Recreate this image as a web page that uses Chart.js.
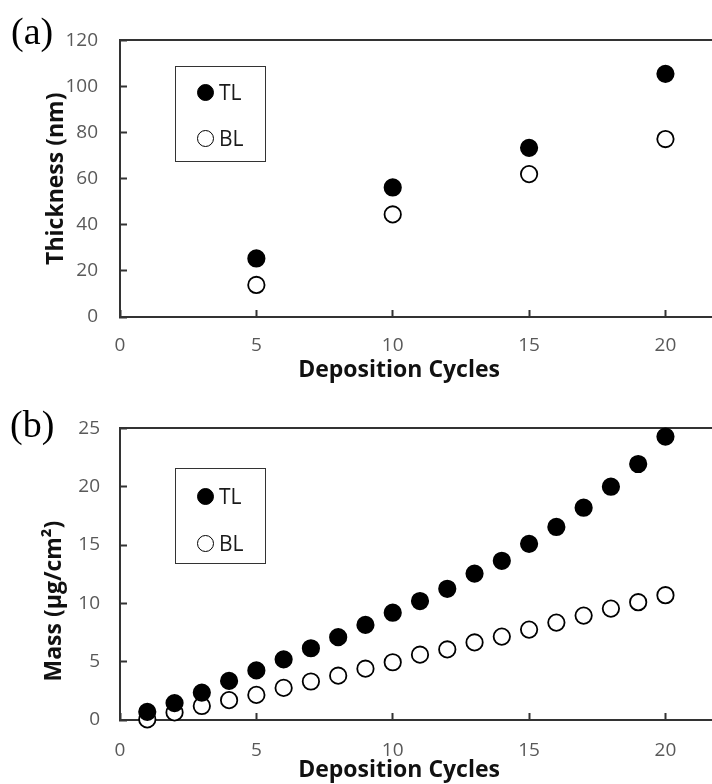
<!DOCTYPE html>
<html>
<head>
<meta charset="utf-8">
<title>Deposition cycles</title>
<script src="https://cdn.jsdelivr.net/npm/chart.js@4.4.1/dist/chart.umd.min.js"></script>
<style>
    html, body { margin: 0; padding: 0; width: 712px; height: 784px; overflow: hidden; background: #fff; }
    .panel { position: absolute; left: 0; }
    .tag { position: absolute; font-family: 'Liberation Serif', 'DejaVu Serif', serif; font-size: 38px; line-height: 1; color: #000; }
    .key { position: absolute; left: 175px; width: 91px; height: 96px; box-sizing: border-box;
           border: 1.5px solid #333; font-family: 'Open Sans', sans-serif; font-size: 21px; color: #1a1a1a; }
    .key .row { position: absolute; left: 21px; height: 24px; display: flex; align-items: center; }
    .key .dot { width: 17px; height: 17px; box-sizing: border-box; border-radius: 50%; border: 1.8px solid #000; margin-right: 5px; }
</style>
</head>
<body>
<canvas id="thickness-chart" class="panel" width="730" height="390" style="top:0"></canvas>
<canvas id="mass-chart" class="panel" width="730" height="394" style="top:390px"></canvas>
<div class="tag" style="left:11px; top:12px">(a)</div>
<div class="tag" style="left:10px; top:405px">(b)</div>
<div class="key" id="thickness-key" style="top:66px"></div>
<div class="key" id="mass-key" style="top:468px"></div>
<script>
    // Film growth per deposition cycle: top-layer (TL) vs bottom-layer (BL).
    var seriesNames = ['TL', 'BL'];

    // (a) thickness, measured every 5 cycles
    var thicknessCycles = [5, 10, 15, 20];
    var thicknessTL = [25.4, 56.2, 73.4, 105.5];
    var thicknessBL = [13.9, 44.5, 62.0, 77.2];
    var thicknessAxis = [0, 120, 20];   // min, max, step

    // (b) mass, measured every cycle
    var massCycles = [1, 2, 3, 4, 5, 6, 7, 8, 9, 10, 11, 12, 13, 14, 15, 16, 17, 18, 19, 20];
    var massTL = [0.7, 1.45, 2.35, 3.35, 4.25, 5.2, 6.15, 7.1, 8.15, 9.2,
                  10.2, 11.25, 12.55, 13.65, 15.1, 16.55, 18.2, 20.0, 21.95, 24.3];
    var massBL = [0.05, 0.65, 1.2, 1.7, 2.15, 2.75, 3.3, 3.8, 4.4, 4.95,
                  5.6, 6.05, 6.65, 7.15, 7.75, 8.35, 8.95, 9.55, 10.1, 10.7];
    var massAxis = [0, 25, 5];

    var cycleAxis = [0, 22, 5];

    Chart.defaults.font.family = "'Open Sans', sans-serif";

    var axisColor = '#333';

    // trailing no-break spaces nudge a centred axis title towards its start
    function pad(text, n) {
        return text + '\u00a0'.repeat(n);
    }

    function pairs(xs, ys) {
        return xs.map(function (x, i) {
            return {x: x, y: ys[i]};
        });
    }

    function buildPanel(canvasId, xs, tl, bl, yAxis, yTitle, lay) {
        var ctx = document.getElementById(canvasId);
        var config = {
            type: 'scatter',
            data: {
                datasets: [{
                    label: seriesNames[0],
                    data: pairs(xs, tl),
                    xAxisID: 'x',
                    yAxisID: 'y',
                    backgroundColor: '#000',
                    borderColor: '#000',
                    borderWidth: 1.8,
                    pointRadius: 8.2,
                    clip: false
                },
                {
                    label: seriesNames[1],
                    data: pairs(xs, bl),
                    xAxisID: 'x',
                    yAxisID: 'y',
                    backgroundColor: '#fff',
                    borderColor: '#000',
                    borderWidth: 1.8,
                    pointRadius: 8.2,
                    clip: false
                }]
            },
            options: {
                responsive: false,
                animation: false,
                devicePixelRatio: 1,
                events: [],
                layout: {
                    padding: {top: lay.top, right: 10, bottom: 0, left: 0}
                },
                plugins: {
                    legend: {display: false},
                    tooltip: {enabled: false}
                },
                scales: {
                    x: {
                        type: 'linear',
                        position: 'bottom',
                        min: cycleAxis[0],
                        max: cycleAxis[1],
                        ticks: {
                            stepSize: cycleAxis[2],
                            includeBounds: false,
                            padding: lay.xTickPad,
                            color: '#595959',
                            font: {size: 19}
                        },
                        grid: {drawOnChartArea: false, tickLength: -7, tickWidth: 2, tickColor: axisColor},
                        border: {color: axisColor, width: 2},
                        title: {
                            display: true,
                            text: pad('Deposition Cycles', 7),
                            color: '#111',
                            font: {size: 23, weight: 'bold'},
                            padding: {top: 0, bottom: lay.xTitlePad}
                        },
                        afterFit: function (scale) {
                            scale.height = lay.xHeight;
                        }
                    },
                    // frame line along the top of the plot
                    xTop: {
                        axis: 'x',
                        type: 'linear',
                        position: 'top',
                        min: cycleAxis[0],
                        max: cycleAxis[1],
                        ticks: {display: false},
                        grid: {display: false, drawTicks: false},
                        border: {color: axisColor, width: 2},
                        afterFit: function (scale) {
                            scale.height = 0;
                        }
                    },
                    y: {
                        type: 'linear',
                        position: 'left',
                        min: yAxis[0],
                        max: yAxis[1],
                        ticks: {
                            stepSize: yAxis[2],
                            padding: lay.yTickPad,
                            color: '#595959',
                            font: {size: 19}
                        },
                        grid: {drawOnChartArea: false, tickLength: -7, tickWidth: 2, tickColor: axisColor},
                        border: {color: axisColor, width: 2},
                        title: {
                            display: true,
                            text: yTitle,
                            color: '#111',
                            font: {size: 23, weight: 'bold'},
                            padding: {top: lay.yTitlePad, bottom: 0}
                        },
                        afterFit: function (scale) {
                            scale.width = 120;
                        }
                    }
                }
            }
        };
        return new Chart(ctx, config);
    }

    // boxed key drawn from the chart's own dataset styles
    function buildKey(chart, keyId, rowTops) {
        var box = document.getElementById(keyId);
        chart.data.datasets.forEach(function (ds, i) {
            var row = document.createElement('div');
            row.className = 'row';
            row.style.top = rowTops[i] + 'px';
            var dot = document.createElement('span');
            dot.className = 'dot';
            dot.style.background = ds.backgroundColor;
            dot.style.borderColor = ds.borderColor;
            var txt = document.createElement('span');
            txt.textContent = ds.label;
            row.appendChild(dot);
            row.appendChild(txt);
            box.appendChild(row);
        });
    }

    var thicknessChart = buildPanel('thickness-chart', thicknessCycles, thicknessTL, thicknessBL,
        thicknessAxis, 'Thickness (nm)',
        {top: 20, xHeight: 73, xTickPad: 24, xTitlePad: 6, yTickPad: 29, yTitlePad: 43});

    var massChart = buildPanel('mass-chart', massCycles, massTL, massBL,
        massAxis, pad('Mass (\u00b5g/cm\u00b2)', 9),
        {top: 22, xHeight: 64, xTickPad: 26, xTitlePad: 0, yTickPad: 27, yTitlePad: 41});

    buildKey(thicknessChart, 'thickness-key', [13, 59]);
    buildKey(massChart, 'mass-key', [15, 62]);
</script>
</body>
</html>
